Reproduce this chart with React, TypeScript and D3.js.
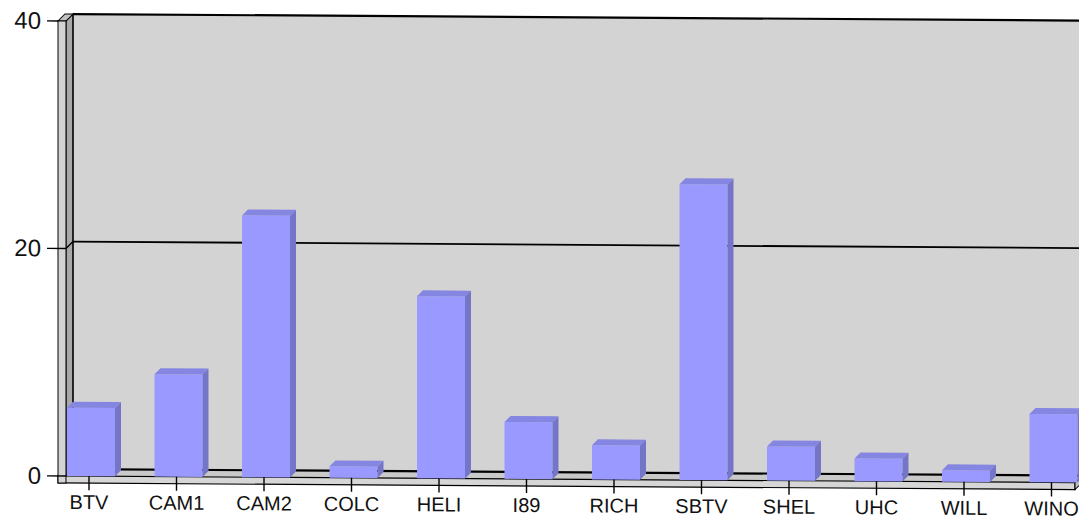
import React from 'react';
import * as d3 from 'd3';

// stations along the x axis
const categories = ['BTV', 'CAM1', 'CAM2', 'COLC', 'HELI', 'I89', 'RICH', 'SBTV', 'SHEL', 'UHC', 'WILL', 'WINO'];
// bar heights
const counts = [6, 9, 23, 1, 16, 5, 3, 26, 3, 2, 1, 6];
const yTicks = [0, 20, 40];

const W = 1079;
const H = 518;

const App: React.FC = () => {
  const y = d3.scaleLinear().domain([0, 40]).range([476, 21]);
  const x = d3.scalePoint<string>().domain(categories).range([89, 1051.5]);

  // 3d box geometry
  const x0 = 66; // front left of plot
  const x1 = 1075; // front right of plot
  const wallL = 58; // outer edge of the left wall
  const dx = 7;
  const dy = -7;
  const slab = 7; // floor thickness
  const barW = 48;
  const bd = 6; // bar depth

  const y0 = y(0);
  const yTop = y(40);
  const k = 0.0065; // slight shear of the whole picture

  const pts = (p: [number, number][]) => p.map(d => d.join(',')).join(' ');
  const font = '"Liberation Sans", Arial, sans-serif';

  return (
    <svg width={W} height={H} style={{ position: 'absolute', left: 0, top: 0, background: '#fff' }}>
      <g transform={`matrix(1,${k},0,1,0,${-k * x0})`}>
        {/* back wall */}
        <polygon
          points={pts([[x0 + dx, yTop + dy], [x1 + dx, yTop + dy], [x1 + dx, y0 + dy], [x0 + dx, y0 + dy]])}
          fill="#d3d3d3"
        />
        {/* left wall inner side */}
        <polygon
          points={pts([[x0, yTop], [x0 + dx, yTop + dy], [x0 + dx, y0 + dy], [x0, y0]])}
          fill="#a9a9a9"
          stroke="#000"
          strokeWidth={1}
        />
        {/* floor top */}
        <polygon
          points={pts([[x0, y0], [x1, y0], [x1 + dx, y0 + dy], [x0 + dx, y0 + dy]])}
          fill="#c9c9c9"
        />
        {/* floor front + right side */}
        <rect x={wallL} y={y0} width={x1 - wallL} height={slab} fill="#d6d6d6" stroke="#000" strokeWidth={1.2} />
        <polygon
          points={pts([[x1, y0], [x1 + dx, y0 + dy], [x1 + dx, y0 + dy + slab], [x1, y0 + slab]])}
          fill="#bcbcbc"
          stroke="#000"
          strokeWidth={1}
        />
        {/* left wall top cap + front */}
        <polygon
          points={pts([[wallL, yTop], [x0, yTop], [x0 + dx, yTop + dy], [wallL + dx, yTop + dy]])}
          fill="#c0c0c0"
          stroke="#000"
          strokeWidth={1}
        />
        <rect x={wallL} y={yTop} width={x0 - wallL} height={y0 + slab - yTop} fill="#d3d3d3" stroke="#000" strokeWidth={1} />

        {/* back wall edges */}
        <line x1={x0 + dx} x2={x1 + dx + 10} y1={yTop + dy} y2={yTop + dy} stroke="#000" strokeWidth={2.2} />
        <line x1={x0 + dx} x2={x1 + dx} y1={y0 + dy} y2={y0 + dy} stroke="#000" strokeWidth={2.2} />
        <line x1={x0 + dx} x2={x0 + dx} y1={yTop + dy} y2={y0 + dy} stroke="#000" strokeWidth={1.2} />

        {/* grid lines + y ticks */}
        {yTicks.map(t => (
          <g key={t}>
            <line x1={47} x2={t === 40 ? wallL : x0} y1={y(t)} y2={y(t)} stroke="#000" strokeWidth={1.4} />
            {t > 0 && t < 40 && (
              <>
                <line x1={x0} x2={x0 + dx} y1={y(t)} y2={y(t) + dy} stroke="#000" strokeWidth={1.4} />
                <line x1={x0 + dx} x2={x1 + dx + 10} y1={y(t) + dy} y2={y(t) + dy} stroke="#000" strokeWidth={1.8} />
              </>
            )}
            <text
              x={41}
              y={y(t)}
              dy="0.33em"
              textAnchor="end"
              fontFamily={font}
              fontSize={24}
              fill="#111"
            >
              {t}
            </text>
          </g>
        ))}

        {/* bars */}
        {categories.map((c, i) => {
          const bx = (x(c) ?? 0) - 22;
          const top = y(counts[i]);
          return (
            <g key={c}>
              <rect x={bx} y={top} width={barW} height={y0 - top} fill="#9999ff" />
              <polygon
                points={pts([[bx, top], [bx + barW, top], [bx + barW + bd, top - bd], [bx + bd, top - bd]])}
                fill="#8585e2"
              />
              <polygon
                points={pts([[bx + barW, top], [bx + barW + bd, top - bd], [bx + barW + bd, y0 - bd], [bx + barW, y0]])}
                fill="#7575c8"
              />
            </g>
          );
        })}

        {/* x ticks + labels */}
        {categories.map(c => (
          <g key={c}>
            <line x1={x(c)} x2={x(c)} y1={y0} y2={y0 + 14} stroke="#000" strokeWidth={1.4} />
            <text x={x(c)} y={509} textAnchor="middle" fontFamily={font} fontSize={20} fill="#111">
              {c}
            </text>
          </g>
        ))}
      </g>
    </svg>
  );
};

export default App;
